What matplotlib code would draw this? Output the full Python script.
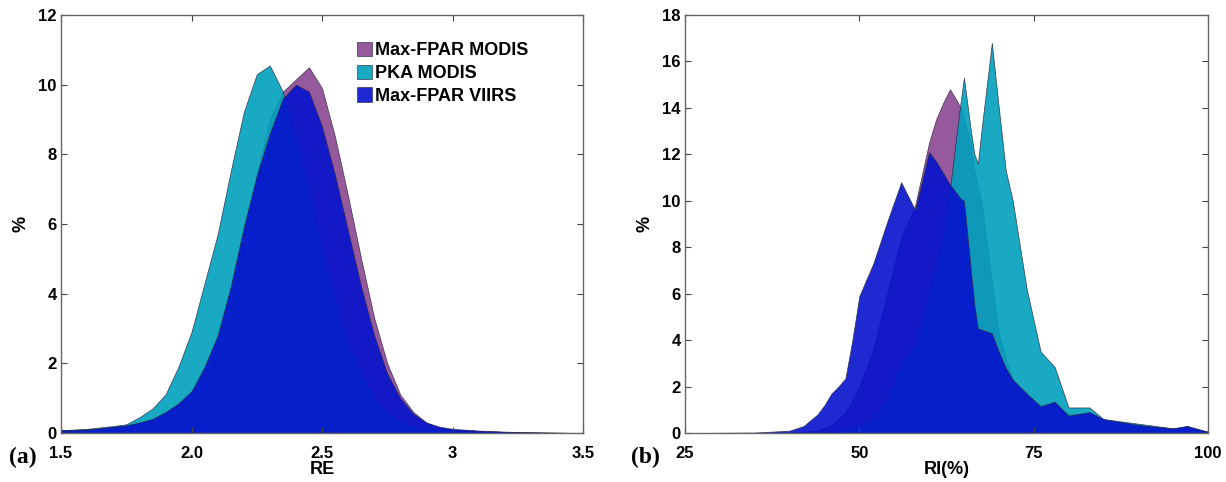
import numpy as np
import matplotlib.pyplot as plt
from matplotlib.patches import Patch

plt.rcParams["font.family"] = "Liberation Sans"
plt.rcParams["font.weight"] = "bold"
plt.rcParams["font.size"] = 12

labels = ['Max-FPAR MODIS', 'PKA MODIS', 'Max-FPAR VIIRS']
colors = ['#8b4790', '#00a0bd', '#0512cc']

# panel (a): RE distributions
re_x = [1.5, 1.6, 1.7, 1.75, 1.8, 1.85, 1.9, 1.95, 2.0, 2.05, 2.1, 2.15, 2.2, 2.25,
        2.3, 2.35, 2.4, 2.45, 2.5, 2.55, 2.6, 2.65, 2.7, 2.75, 2.8, 2.85, 2.9,
        2.95, 3.0, 3.1, 3.2, 3.3, 3.5]
re_maxfpar_modis = [0.08, 0.1, 0.16, 0.22, 0.3, 0.42, 0.6, 0.8, 1.1, 1.7, 2.5, 3.9, 5.5, 7.4,
                    9.0, 9.8, 10.15, 10.5, 9.9, 8.5, 6.8, 5.0, 3.3, 2.0, 1.1, 0.6, 0.3,
                    0.15, 0.1, 0.06, 0.03, 0.02, 0.0]
re_pka_modis = [0.08, 0.12, 0.2, 0.25, 0.45, 0.7, 1.1, 1.9, 2.9, 4.3, 5.7, 7.5, 9.2, 10.3,
                10.55, 9.8, 8.4, 7.0, 5.3, 3.8, 2.6, 1.7, 1.0, 0.6, 0.35, 0.2, 0.12,
                0.09, 0.07, 0.04, 0.02, 0.01, 0.0]
re_maxfpar_viirs = [0.08, 0.1, 0.18, 0.22, 0.3, 0.4, 0.6, 0.85, 1.2, 1.9, 2.8, 4.2, 5.9, 7.4,
                    8.6, 9.6, 10.0, 9.8, 8.8, 7.4, 5.8, 4.2, 2.8, 1.7, 1.0, 0.55, 0.3,
                    0.18, 0.12, 0.07, 0.04, 0.02, 0.0]

# panel (b): RI distributions
ri_x = [25, 35, 40, 42, 44, 45, 46, 47, 48, 49, 50, 52, 54, 56, 58, 60, 61, 62, 63, 64,
        64.5, 65, 66, 66.5, 67, 67.5, 69, 70, 71, 72, 74, 76, 78, 80, 82, 83, 85,
        90, 95, 97, 100]
ri_maxfpar_modis = [0, 0, 0.02, 0.05, 0.1, 0.2, 0.35, 0.6, 0.9, 1.4, 2.0, 3.6, 6.0, 8.4,
                    9.8, 12.5, 13.5, 14.2, 14.8, 14.3, 14.0, 13.5, 12.5, 11.3, 10.6, 10.0,
                    6.5, 4.3, 3.2, 2.3, 1.6, 1.2, 1.3, 0.8, 0.85, 0.9, 0.5, 0.3, 0.15,
                    0.25, 0.05]
ri_pka_modis = [0, 0, 0, 0, 0.02, 0.04, 0.06, 0.1, 0.15, 0.2, 0.3, 0.6, 1.5, 3.0, 3.8,
                6.0, 7.2, 8.5, 10.5, 13.0, 14.2, 15.3, 13.0, 12.0, 11.6, 13.0, 16.8,
                14.0, 11.3, 10.0, 6.2, 3.5, 2.85, 1.1, 1.1, 1.1, 0.6, 0.4, 0.2, 0.3,
                0.05]
ri_maxfpar_viirs = [0, 0.02, 0.1, 0.3, 0.8, 1.2, 1.7, 2.0, 2.35, 4.0, 5.9, 7.3, 9.1, 10.8,
                    9.6, 12.1, 11.7, 11.2, 10.7, 10.3, 10.1, 10.0, 7.0, 5.5, 4.5, 4.45,
                    4.3, 3.5, 2.8, 2.3, 1.7, 1.15, 1.35, 0.75, 0.85, 0.9, 0.6, 0.35,
                    0.2, 0.3, 0.05]

fig = plt.figure(figsize=(12.26, 4.82), dpi=100)
ax1 = fig.add_axes([61 / 1226, 1 - 433 / 482, (583 - 61) / 1226, (433 - 15) / 482])
ax2 = fig.add_axes([685 / 1226, 1 - 433 / 482, (1208 - 685) / 1226, (433 - 15) / 482])


def fill_all(ax, x, series):
    for y, c in zip(series, colors):
        ax.fill_between(x, 0, y, color=c, alpha=0.9, lw=0.5, edgecolor='#2a2a44')


fill_all(ax1, re_x, [re_maxfpar_modis, re_pka_modis, re_maxfpar_viirs])
fill_all(ax2, ri_x, [ri_maxfpar_modis, ri_pka_modis, ri_maxfpar_viirs])

ax1.set_xlim(1.5, 3.5)
ax1.set_ylim(0, 12)
ax1.set_xticks([1.5, 2.0, 2.5, 3.0, 3.5])
ax1.set_xticklabels(['1.5', '2.0', '2.5', '3', '3.5'])
ax1.set_yticks(range(0, 13, 2))
ax1.set_xlabel('RE', fontsize=13, fontweight='bold', labelpad=0)

ax2.set_xlim(25, 100)
ax2.set_ylim(0, 18)
ax2.set_xticks([25, 50, 75, 100])
ax2.set_yticks(range(0, 19, 2))
ax2.set_xlabel('RI(%)', fontsize=13, fontweight='bold', labelpad=0)

for ax in (ax1, ax2):
    ax.set_ylabel('%', fontsize=13, fontweight='bold', labelpad=6)
    ax.tick_params(direction='in', top=True, right=True, length=4, width=0.8,
                   color='#444444', labelsize=12, pad=3)
    ax.tick_params(axis='x', pad=9)
    for s in ax.spines.values():
        s.set_color('#666666')
        s.set_linewidth(1.0)

handles = [Patch(facecolor=c, alpha=0.9, edgecolor='#2a2a44', lw=0.5) for c in colors]
ax1.legend(handles, labels, loc='upper left', bbox_to_anchor=(0.535, 0.975), frameon=False,
           handlelength=0.85, handleheight=0.85, handletextpad=0.2, labelspacing=0.3,
           prop={'weight': 'bold', 'size': 13})

fig.text(9 / 1226, 1 - 457 / 482, '(a)', family='Liberation Serif', fontsize=17,
         fontweight='bold', va='center', ha='left')
fig.text(631 / 1226, 1 - 457 / 482, '(b)', family='Liberation Serif', fontsize=17,
         fontweight='bold', va='center', ha='left')

fig.savefig('out.png', dpi=100)
